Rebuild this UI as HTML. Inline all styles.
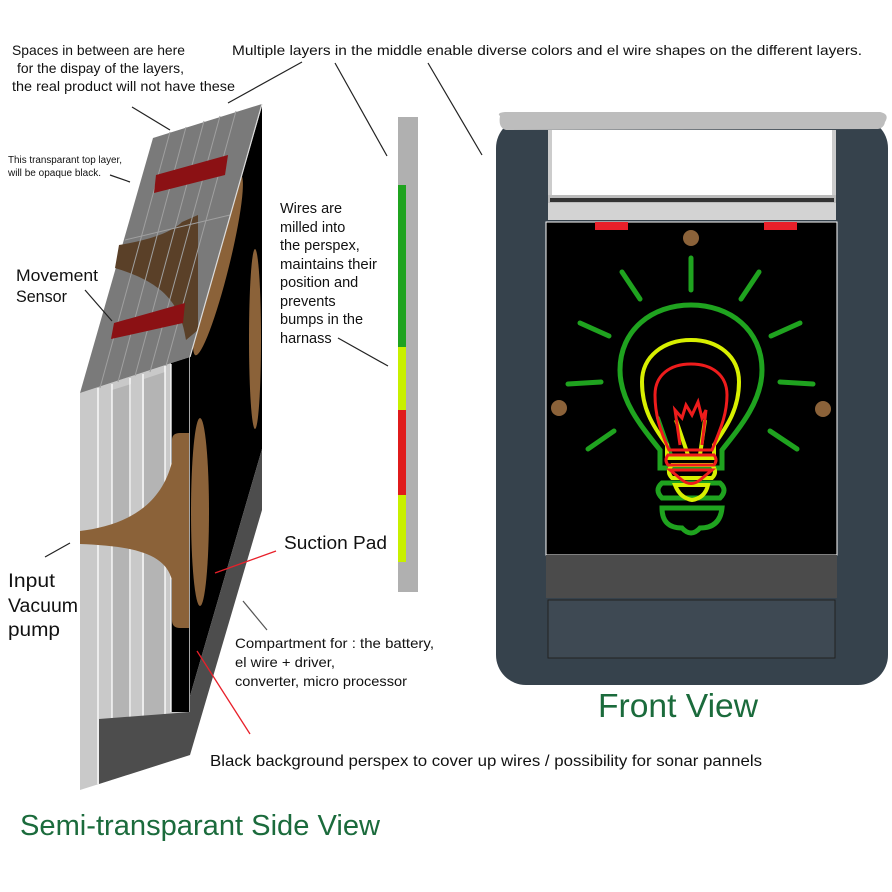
<!DOCTYPE html>
<html><head><meta charset="utf-8"><style>
html,body{margin:0;padding:0;background:#fff;}
svg{display:block;}
text{font-family:"Liberation Sans",sans-serif;fill:#111;}
</style></head><body>
<svg width="892" height="892" viewBox="0 0 892 892" xmlns="http://www.w3.org/2000/svg">
<!-- SIDE VIEW -->
<polygon points="80,393 190,357 190,755 99,784 80,790" fill="#c9c9c9"/>
<polygon points="112,390 131,384 131,760 112,766" fill="#b4b4b4"/>
<polygon points="144,379 165,372 165,752 144,758" fill="#b4b4b4"/>
<polygon points="171,363 190,357 190,712 171,712" fill="#000"/>
<g stroke="#fff" stroke-width="1.3">
<line x1="98" y1="388" x2="98" y2="784"/><line x1="112" y1="384" x2="112" y2="780"/>
<line x1="130" y1="378" x2="130" y2="772"/><line x1="143" y1="374" x2="143" y2="768"/>
<line x1="165" y1="366" x2="165" y2="760"/><line x1="171" y1="364" x2="171" y2="712"/>
<line x1="190" y1="357" x2="190" y2="755"/>
</g>
<polygon points="190,357 262,106 262,449 190,696" fill="#000"/>
<polygon points="262,449 262,510 190,755 190,696" fill="#4d4d4d"/>
<polygon points="99,719 190,712 190,755 99,784" fill="#4d4d4d"/>
<ellipse cx="218" cy="265" rx="11" ry="93" fill="#8b6239" transform="rotate(14 218 265)"/>
<ellipse cx="255" cy="339" rx="6" ry="90" fill="#8b6239"/>
<ellipse cx="200" cy="512" rx="9" ry="94" fill="#8b6239"/>
<path d="M80,531 C120,526 160,510 172,462 L172,440 Q172,433 180,433 L189,433 L189,628 L180,628 Q172,628 172,620 L172,580 C165,552 130,546 80,544 Z" fill="#8b6239"/>
<polygon points="153,138 262,104 190,357 80,393" fill="#7a7a7a"/>
<path d="M119,245 C150,240 172,232 182,222 L198,215 L198,330 L186,340 C180,300 160,282 115,268 Z" fill="#5a4028"/>
<g stroke="#a0a0a0" stroke-width="1" fill="none">
<line x1="170" y1="132" x2="100" y2="388"/><line x1="186" y1="127" x2="118" y2="382"/>
<line x1="204" y1="121" x2="135" y2="376"/><line x1="220" y1="116" x2="150" y2="372"/>
<line x1="236" y1="111" x2="166" y2="366"/><line x1="125" y1="240" x2="230" y2="215"/>
</g>
<polygon points="156,175 228,155 225,175 154,193" fill="#8b1114"/>
<polygon points="114,323 185,303 183,323 111,339" fill="#8b1114"/>
<line x1="262" y1="104" x2="190" y2="357" stroke="#ddd" stroke-width="1.2"/>

<rect x="398" y="117" width="20" height="475" fill="#b0b0b0"/>
<rect x="398" y="185" width="8" height="162" fill="#1fa31f"/>
<rect x="398" y="347" width="8" height="63" fill="#c8f000"/>
<rect x="398" y="410" width="8" height="85" fill="#e01b1b"/>
<rect x="398" y="495" width="8" height="67" fill="#c8f000"/>

<!-- FRONT VIEW BIN -->
<rect x="496" y="118" width="392" height="567" rx="30" fill="#36424c"/>
<rect x="548" y="130" width="288" height="90" fill="#fff"/>
<rect x="548" y="130" width="4" height="65" fill="#ccc"/><rect x="832" y="130" width="4" height="65" fill="#ccc"/>
<rect x="548" y="195" width="288" height="8" fill="#bbb"/>
<rect x="550" y="198" width="284" height="4" fill="#333"/>
<rect x="548" y="203" width="288" height="17" fill="#d3d3d3"/>
<path d="M500,116 Q496,113 505,112 L880,112 Q890,114 885,122 Q884,128 878,129 L506,130 Q498,128 500,116 Z" fill="#bdbdbd"/>
<rect x="546" y="222" width="291" height="333" fill="#000" stroke="#fff" stroke-width="1"/>
<rect x="595" y="222" width="33" height="8" fill="#e8202a"/>
<rect x="764" y="222" width="33" height="8" fill="#e8202a"/>
<rect x="546" y="555" width="291" height="43" fill="#4b4b4b"/>
<rect x="548" y="600" width="287" height="58" fill="#3e4953" stroke="#222" stroke-width="1"/>
<circle cx="691" cy="238" r="8" fill="#8b6239"/>
<circle cx="559" cy="408" r="8" fill="#8b6239"/>
<circle cx="823" cy="409" r="8" fill="#8b6239"/>
<g stroke="#1fa31f" stroke-width="5" stroke-linecap="round" fill="none">
<line x1="691" y1="258" x2="691" y2="290"/>
<line x1="622" y1="272" x2="640" y2="299"/><line x1="759" y1="272" x2="741" y2="299"/>
<line x1="580" y1="323" x2="609" y2="336"/><line x1="800" y1="323" x2="771" y2="336"/>
<line x1="568" y1="384" x2="601" y2="382"/><line x1="780" y1="382" x2="813" y2="384"/>
<line x1="588" y1="449" x2="614" y2="431"/><line x1="770" y1="431" x2="797" y2="449"/>
<path d="M660,468 L660,450 C640,425 620,400 620,370 C620,330 652,305 691,305 C730,305 762,330 762,370 C762,400 742,425 722,450 L722,468 Z"/>
<path d="M662,483 L720,483 Q728,490 720,498 L662,498 Q654,490 662,483 Z"/>
<path d="M662,508 L722,508 Q720,528 700,528 Q691,538 682,528 Q662,528 662,508 Z"/>
<line x1="658" y1="418" x2="672" y2="458" stroke-width="4"/>
</g>
<g stroke="#d8f000" stroke-width="4" fill="none">
<path d="M667,458 L667,445 C652,425 642,408 642,382 C642,356 664,340 691,340 C718,340 739,356 739,382 C739,408 728,425 714,445 L714,458 Z"/>
<path d="M672,465 L712,465 Q718,472 712,478 L672,478 Q666,472 672,465 Z"/>
<path d="M675,485 L708,485 Q705,498 692,500 Q680,498 675,485 Z"/>
<path d="M676,420 L688,455 M705,420 L700,455"/>
</g>
<g stroke="#ee1c1c" stroke-width="3" fill="none">
<path d="M669,450 C660,430 655,415 655,395 C655,375 670,364 691,364 C712,364 727,375 727,395 C727,415 720,430 712,450 Z"/>
<path d="M668,455 L714,455 Q718,460 714,465 L668,465 Q664,460 668,455 Z"/>
<path d="M670,470 L712,470 L700,480 Q691,487 682,480 Z"/>
<path d="M680,445 L675,410 L682,418 L686,405 L692,415 L698,402 L702,418 L706,410 L702,445"/>
</g>

<g stroke="#222" stroke-width="1.2">
<line x1="132" y1="107" x2="170" y2="130"/>
<line x1="228" y1="103" x2="302" y2="62"/>
<line x1="335" y1="63" x2="387" y2="156"/>
<line x1="428" y1="63" x2="482" y2="155"/>
<line x1="110" y1="175" x2="130" y2="182"/>
<line x1="85" y1="290" x2="112" y2="321"/>
<line x1="338" y1="338" x2="388" y2="366"/>
<line x1="45" y1="557" x2="70" y2="543"/>
<line x1="243" y1="601" x2="267" y2="630" stroke="#555"/>
</g>
<g stroke="#e8202a" stroke-width="1.3">
<line x1="276" y1="551" x2="215" y2="573"/>
<line x1="197" y1="651" x2="250" y2="734"/>
</g>

<g font-size="14" lengthAdjust="spacingAndGlyphs">
<text x="12" y="55" textLength="173" lengthAdjust="spacingAndGlyphs">Spaces in between are here</text>
<text x="17" y="73" textLength="167" lengthAdjust="spacingAndGlyphs">for the dispay of the layers,</text>
<text x="12" y="91" textLength="223" lengthAdjust="spacingAndGlyphs">the real product will not have these</text>
<text x="232" y="55" textLength="630" lengthAdjust="spacingAndGlyphs">Multiple layers in the middle enable diverse colors and el wire shapes on the different layers.</text>
</g>
<text x="8" y="163" font-size="10" textLength="114" lengthAdjust="spacingAndGlyphs">This transparant top layer,</text>
<text x="8" y="176" font-size="10" textLength="93" lengthAdjust="spacingAndGlyphs">will be opaque black.</text>
<text x="16" y="281" font-size="17" textLength="82" lengthAdjust="spacingAndGlyphs">Movement</text>
<text x="16" y="302" font-size="17" textLength="51" lengthAdjust="spacingAndGlyphs">Sensor</text>
<g font-size="14.5">
<text x="280" y="213">Wires are</text>
<text x="280" y="232">milled into</text>
<text x="280" y="250">the perspex,</text>
<text x="280" y="269" textLength="97" lengthAdjust="spacingAndGlyphs">maintains their</text>
<text x="280" y="287">position and</text>
<text x="280" y="306">prevents</text>
<text x="280" y="324">bumps in the</text>
<text x="280" y="343">harnass</text>
</g>
<text x="284" y="549" font-size="18" textLength="103" lengthAdjust="spacingAndGlyphs">Suction Pad</text>
<text x="8" y="587" font-size="19" textLength="47" lengthAdjust="spacingAndGlyphs">Input</text>
<text x="8" y="612" font-size="19" textLength="70" lengthAdjust="spacingAndGlyphs">Vacuum</text>
<text x="8" y="636" font-size="19" textLength="52" lengthAdjust="spacingAndGlyphs">pump</text>
<g font-size="14">
<text x="235" y="648" textLength="199" lengthAdjust="spacingAndGlyphs">Compartment for : the battery,</text>
<text x="235" y="667" textLength="100" lengthAdjust="spacingAndGlyphs">el wire + driver,</text>
<text x="235" y="686" textLength="172" lengthAdjust="spacingAndGlyphs">converter, micro processor</text>
</g>
<text x="210" y="766" font-size="16" textLength="552" lengthAdjust="spacingAndGlyphs">Black background perspex to cover up wires / possibility for sonar pannels</text>
<text x="20" y="835" font-size="29" textLength="360" lengthAdjust="spacingAndGlyphs" style="fill:#1b6b3c">Semi-transparant Side View</text>
<text x="598" y="717" font-size="33" textLength="160" lengthAdjust="spacingAndGlyphs" style="fill:#1b6b3c">Front View</text>
</svg>
</body></html>
